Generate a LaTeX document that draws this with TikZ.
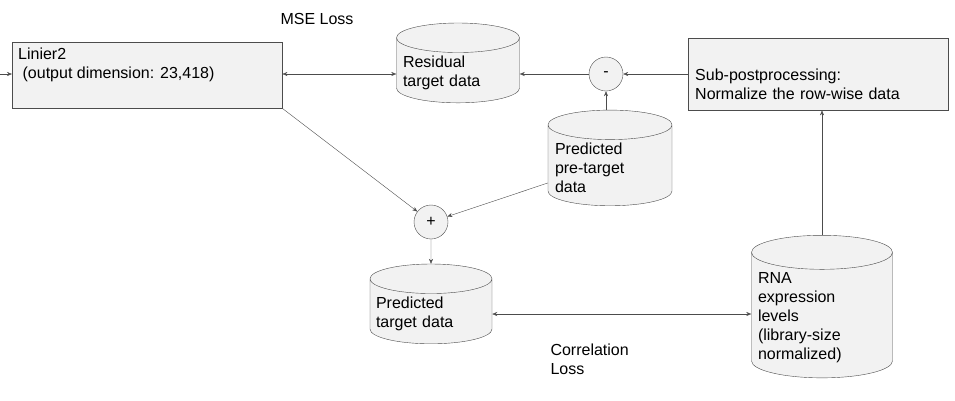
\documentclass[tikz,border=0pt]{standalone}
\usepackage{fontspec}
\setmainfont{Liberation Sans}
\usetikzlibrary{arrows.meta,positioning,shapes.geometric}

\begin{document}
\begin{tikzpicture}[x=1pt,y=-1pt,>={Stealth[length=5pt,width=4pt]},
    font=\fontsize{16}{19}\selectfont,
    process/.style={draw=black!70, fill=black!5, align=left, anchor=north west, inner sep=6pt, text depth=0pt},
    store/.style={draw=black!70, fill=black!5, cylinder, shape border rotate=90, aspect=0.25, align=left, inner xsep=4pt},
    op/.style={draw=black!70, fill=black!5, circle, minimum size=34pt, inner sep=0pt},
    link/.style={draw=black!70, thin}]
    \useasboundingbox (0,0) rectangle (955,400);
    % Boxes, stores and operators
    \node[process, minimum width=270, minimum height=66] (linier) at (12,42) {};
    \node[anchor=north west, align=left, inner sep=6pt] (liniertext) at (linier.north west) {Linier2\\\ (output dimension: 23,418)};
    \node[process, minimum width=260, minimum height=72, text width=246] (subpost) at (688,38) {Sub-postprocessing:\\Normalize the row-wise data};
    \node[store, minimum width=123, minimum height=76, text width=110] (residual) at (458,73) {Residual\\target data};
    \node[store, minimum width=124, minimum height=76, text width=110] (pretarget) at (610,168) {Predicted\\pre-target\\data};
    \node[store, minimum width=122, minimum height=74, text width=110] (target) at (431,314) {Predicted\\target data};
    \node[store, minimum width=141, minimum height=136, text width=128] (rna) at (822,318) {RNA\\expression\\levels\\(library-size\\normalized)};
    \node[op] (minus) at (606,74) {-};
    \node[op] (plus) at (431,222) {+};
    \coordinate (input) at (0,74);
    % Connectors
    \draw[link, ->] (input) -- (linier.west |- input);
    \draw[link, <->] (linier.east |- input) -- (residual.west |- input);
    \draw[link, ->] (minus) -- (residual.east |- minus);
    \draw[link, ->] (subpost.west |- minus) -- (minus);
    \draw[link, ->] (pretarget.north -| minus) -- (minus);
    \draw[link, ->] (linier.south east) -- (plus);
    \draw[link, ->] (pretarget.west) ++(0,15) -- (plus);
    \draw[link, ->] (plus) -- (target.north);
    \draw[link, <->] (target.east) -- (rna.west |- target.east);
    \draw[link, ->] (rna.north) -- (subpost.south -| rna.north);
    % Loss labels
    \node[anchor=west] (mse) at (277,19) {MSE Loss};
    \node[anchor=north west, align=left] (corr) at (547,340) {Correlation\\Loss};
\end{tikzpicture}
\end{document}
